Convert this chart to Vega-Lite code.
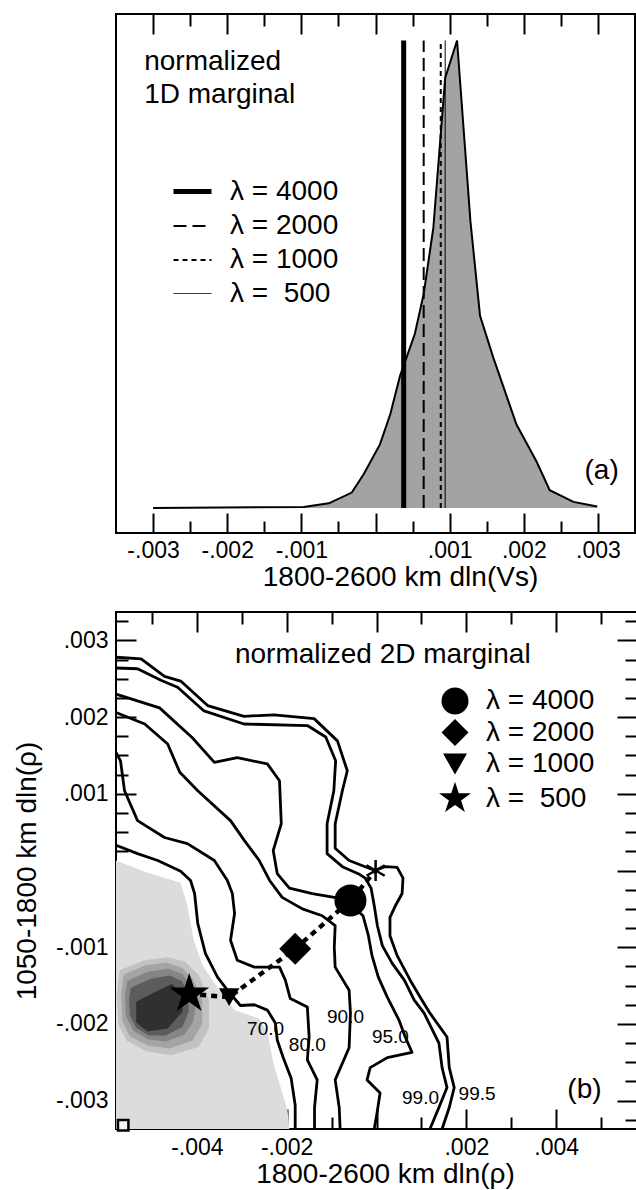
{
  "$schema": "https://vega.github.io/schema/vega-lite/v6.json",
  "padding": {"left": 12, "top": 12, "right": 0, "bottom": 0},
  "spacing": 18,
  "resolve": {
    "scale": {"shape": "independent", "size": "independent", "strokeDash": "independent", "strokeWidth": "independent"},
    "legend": {"shape": "independent", "size": "independent", "strokeDash": "independent", "strokeWidth": "independent"}
  },
  "config": {
    "font": "Liberation Sans",
    "view": {"stroke": "black", "strokeWidth": 2},
    "axis": {"grid": false, "domain": false, "tickColor": "black", "tickWidth": 2, "labelColor": "black", "labelFontSize": 23, "labelFlush": false, "titleFontSize": 28, "titleFontWeight": "normal", "titleColor": "black"},
    "legend": {"labelFontSize": 28, "labelColor": "black", "padding": 0},
    "text": {"color": "black"}
  },
  "datasets": {
    "marginal1d": [
      {"dlnVs": -0.0030, "density": 0.0},
      {"dlnVs": -0.00097, "density": 0.002},
      {"dlnVs": -0.00063, "density": 0.010},
      {"dlnVs": -0.00032, "density": 0.033},
      {"dlnVs": -0.00016, "density": 0.072},
      {"dlnVs": 0.00006, "density": 0.136},
      {"dlnVs": 0.00020, "density": 0.201},
      {"dlnVs": 0.00033, "density": 0.282},
      {"dlnVs": 0.00053, "density": 0.372},
      {"dlnVs": 0.00065, "density": 0.458},
      {"dlnVs": 0.00078, "density": 0.599},
      {"dlnVs": 0.00094, "density": 0.920},
      {"dlnVs": 0.00110, "density": 1.0},
      {"dlnVs": 0.00128, "density": 0.614},
      {"dlnVs": 0.00141, "density": 0.411},
      {"dlnVs": 0.00159, "density": 0.321},
      {"dlnVs": 0.00190, "density": 0.179},
      {"dlnVs": 0.00217, "density": 0.100},
      {"dlnVs": 0.00235, "density": 0.038},
      {"dlnVs": 0.00267, "density": 0.013},
      {"dlnVs": 0.00299, "density": 0.003}
    ],
    "lines1d": [
      {"lambda": 4000, "dlnVs": 0.00038},
      {"lambda": 2000, "dlnVs": 0.00065},
      {"lambda": 1000, "dlnVs": 0.00088},
      {"lambda": 500, "dlnVs": 0.00094}
    ],
    "contours": [
      {"level": "99.5", "i": 0, "x": -0.00580, "y": 0.00278},
      {"level": "99.5", "i": 1, "x": -0.00524, "y": 0.00276},
      {"level": "99.5", "i": 2, "x": -0.00472, "y": 0.00253},
      {"level": "99.5", "i": 3, "x": -0.00436, "y": 0.00247},
      {"level": "99.5", "i": 4, "x": -0.00376, "y": 0.00215},
      {"level": "99.5", "i": 5, "x": -0.00295, "y": 0.00201},
      {"level": "99.5", "i": 6, "x": -0.00228, "y": 0.00203},
      {"level": "99.5", "i": 7, "x": -0.00139, "y": 0.00198},
      {"level": "99.5", "i": 8, "x": -0.00087, "y": 0.00169},
      {"level": "99.5", "i": 9, "x": -0.00065, "y": 0.00130},
      {"level": "99.5", "i": 10, "x": -0.00076, "y": 0.00104},
      {"level": "99.5", "i": 11, "x": -0.00092, "y": 0.00061},
      {"level": "99.5", "i": 12, "x": -0.00092, "y": 0.00029},
      {"level": "99.5", "i": 13, "x": -0.00061, "y": 0.00013},
      {"level": "99.5", "i": 14, "x": -0.00021, "y": 0.00004},
      {"level": "99.5", "i": 15, "x": -0.00003, "y": 0.00000},
      {"level": "99.5", "i": 16, "x": 0.00019, "y": 0.00005},
      {"level": "99.5", "i": 17, "x": 0.00046, "y": 0.00004},
      {"level": "99.5", "i": 18, "x": 0.00059, "y": -0.00010},
      {"level": "99.5", "i": 19, "x": 0.00057, "y": -0.00030},
      {"level": "99.5", "i": 20, "x": 0.00042, "y": -0.00046},
      {"level": "99.5", "i": 21, "x": 0.00030, "y": -0.00061},
      {"level": "99.5", "i": 22, "x": 0.00030, "y": -0.00085},
      {"level": "99.5", "i": 23, "x": 0.00046, "y": -0.00111},
      {"level": "99.5", "i": 24, "x": 0.00075, "y": -0.00143},
      {"level": "99.5", "i": 25, "x": 0.00097, "y": -0.00165},
      {"level": "99.5", "i": 26, "x": 0.00119, "y": -0.00186},
      {"level": "99.5", "i": 27, "x": 0.00157, "y": -0.00217},
      {"level": "99.5", "i": 28, "x": 0.00162, "y": -0.00257},
      {"level": "99.5", "i": 29, "x": 0.00173, "y": -0.00283},
      {"level": "99.5", "i": 30, "x": 0.00162, "y": -0.00309},
      {"level": "99.5", "i": 31, "x": 0.00146, "y": -0.00337},
      {"level": "99.0", "i": 0, "x": -0.00580, "y": 0.00264},
      {"level": "99.0", "i": 1, "x": -0.00532, "y": 0.00263},
      {"level": "99.0", "i": 2, "x": -0.00480, "y": 0.00248},
      {"level": "99.0", "i": 3, "x": -0.00443, "y": 0.00239},
      {"level": "99.0", "i": 4, "x": -0.00384, "y": 0.00208},
      {"level": "99.0", "i": 5, "x": -0.00295, "y": 0.00191},
      {"level": "99.0", "i": 6, "x": -0.00154, "y": 0.00189},
      {"level": "99.0", "i": 7, "x": -0.00113, "y": 0.00174},
      {"level": "99.0", "i": 8, "x": -0.00091, "y": 0.00143},
      {"level": "99.0", "i": 9, "x": -0.00095, "y": 0.00104},
      {"level": "99.0", "i": 10, "x": -0.00110, "y": 0.00061},
      {"level": "99.0", "i": 11, "x": -0.00110, "y": 0.00022},
      {"level": "99.0", "i": 12, "x": -0.00076, "y": 0.00005},
      {"level": "99.0", "i": 13, "x": -0.00038, "y": -0.00005},
      {"level": "99.0", "i": 14, "x": -0.00025, "y": -0.00010},
      {"level": "99.0", "i": 15, "x": -0.00012, "y": -0.00023},
      {"level": "99.0", "i": 16, "x": -0.00005, "y": -0.00046},
      {"level": "99.0", "i": 17, "x": 0.00002, "y": -0.00072},
      {"level": "99.0", "i": 18, "x": 0.00013, "y": -0.00098},
      {"level": "99.0", "i": 19, "x": 0.00035, "y": -0.00121},
      {"level": "99.0", "i": 20, "x": 0.00062, "y": -0.00143},
      {"level": "99.0", "i": 21, "x": 0.00084, "y": -0.00169},
      {"level": "99.0", "i": 22, "x": 0.00106, "y": -0.00186},
      {"level": "99.0", "i": 23, "x": 0.00139, "y": -0.00225},
      {"level": "99.0", "i": 24, "x": 0.00146, "y": -0.00257},
      {"level": "99.0", "i": 25, "x": 0.00157, "y": -0.00283},
      {"level": "99.0", "i": 26, "x": 0.00139, "y": -0.00309},
      {"level": "99.0", "i": 27, "x": 0.00119, "y": -0.00337},
      {"level": "95.0", "i": 0, "x": -0.00580, "y": 0.00230},
      {"level": "95.0", "i": 1, "x": -0.00483, "y": 0.00212},
      {"level": "95.0", "i": 2, "x": -0.00410, "y": 0.00173},
      {"level": "95.0", "i": 3, "x": -0.00361, "y": 0.00141},
      {"level": "95.0", "i": 4, "x": -0.00310, "y": 0.00147},
      {"level": "95.0", "i": 5, "x": -0.00243, "y": 0.00139},
      {"level": "95.0", "i": 6, "x": -0.00216, "y": 0.00117},
      {"level": "95.0", "i": 7, "x": -0.00212, "y": 0.00061},
      {"level": "95.0", "i": 8, "x": -0.00230, "y": 0.00026},
      {"level": "95.0", "i": 9, "x": -0.00221, "y": -0.00004},
      {"level": "95.0", "i": 10, "x": -0.00194, "y": -0.00023},
      {"level": "95.0", "i": 11, "x": -0.00143, "y": -0.00030},
      {"level": "95.0", "i": 12, "x": -0.00094, "y": -0.00035},
      {"level": "95.0", "i": 13, "x": -0.00054, "y": -0.00046},
      {"level": "95.0", "i": 14, "x": -0.00030, "y": -0.00059},
      {"level": "95.0", "i": 15, "x": -0.00018, "y": -0.00085},
      {"level": "95.0", "i": 16, "x": -0.00010, "y": -0.00111},
      {"level": "95.0", "i": 17, "x": 0.00004, "y": -0.00139},
      {"level": "95.0", "i": 18, "x": 0.00024, "y": -0.00165},
      {"level": "95.0", "i": 19, "x": 0.00050, "y": -0.00195},
      {"level": "95.0", "i": 20, "x": 0.00064, "y": -0.00217},
      {"level": "95.0", "i": 21, "x": 0.00079, "y": -0.00237},
      {"level": "95.0", "i": 22, "x": 0.00024, "y": -0.00244},
      {"level": "95.0", "i": 23, "x": -0.00014, "y": -0.00257},
      {"level": "95.0", "i": 24, "x": -0.00021, "y": -0.00273},
      {"level": "95.0", "i": 25, "x": 0.00008, "y": -0.00290},
      {"level": "95.0", "i": 26, "x": 0.00002, "y": -0.00313},
      {"level": "95.0", "i": 27, "x": -0.00005, "y": -0.00337},
      {"level": "90.0", "i": 0, "x": -0.00580, "y": 0.00206},
      {"level": "90.0", "i": 1, "x": -0.00516, "y": 0.00191},
      {"level": "90.0", "i": 2, "x": -0.00465, "y": 0.00165},
      {"level": "90.0", "i": 3, "x": -0.00438, "y": 0.00128},
      {"level": "90.0", "i": 4, "x": -0.00398, "y": 0.00104},
      {"level": "90.0", "i": 5, "x": -0.00325, "y": 0.00065},
      {"level": "90.0", "i": 6, "x": -0.00294, "y": 0.00039},
      {"level": "90.0", "i": 7, "x": -0.00261, "y": 0.00013},
      {"level": "90.0", "i": 8, "x": -0.00238, "y": -0.00013},
      {"level": "90.0", "i": 9, "x": -0.00210, "y": -0.00035},
      {"level": "90.0", "i": 10, "x": -0.00165, "y": -0.00050},
      {"level": "90.0", "i": 11, "x": -0.00121, "y": -0.00059},
      {"level": "90.0", "i": 12, "x": -0.00092, "y": -0.00072},
      {"level": "90.0", "i": 13, "x": -0.00094, "y": -0.00100},
      {"level": "90.0", "i": 14, "x": -0.00092, "y": -0.00126},
      {"level": "90.0", "i": 15, "x": -0.00061, "y": -0.00156},
      {"level": "90.0", "i": 16, "x": -0.00058, "y": -0.00186},
      {"level": "90.0", "i": 17, "x": -0.00061, "y": -0.00231},
      {"level": "90.0", "i": 18, "x": -0.00092, "y": -0.00273},
      {"level": "90.0", "i": 19, "x": -0.00083, "y": -0.00309},
      {"level": "90.0", "i": 20, "x": -0.00081, "y": -0.00337},
      {"level": "80.0", "i": 0, "x": -0.00580, "y": 0.00154},
      {"level": "80.0", "i": 1, "x": -0.00570, "y": 0.00143},
      {"level": "80.0", "i": 2, "x": -0.00561, "y": 0.00104},
      {"level": "80.0", "i": 3, "x": -0.00532, "y": 0.00065},
      {"level": "80.0", "i": 4, "x": -0.00472, "y": 0.00043},
      {"level": "80.0", "i": 5, "x": -0.00421, "y": 0.00035},
      {"level": "80.0", "i": 6, "x": -0.00361, "y": 0.00013},
      {"level": "80.0", "i": 7, "x": -0.00332, "y": -0.00013},
      {"level": "80.0", "i": 8, "x": -0.00321, "y": -0.00030},
      {"level": "80.0", "i": 9, "x": -0.00316, "y": -0.00056},
      {"level": "80.0", "i": 10, "x": -0.00325, "y": -0.00091},
      {"level": "80.0", "i": 11, "x": -0.00310, "y": -0.00117},
      {"level": "80.0", "i": 12, "x": -0.00272, "y": -0.00126},
      {"level": "80.0", "i": 13, "x": -0.00238, "y": -0.00126},
      {"level": "80.0", "i": 14, "x": -0.00216, "y": -0.00126},
      {"level": "80.0", "i": 15, "x": -0.00203, "y": -0.00143},
      {"level": "80.0", "i": 16, "x": -0.00192, "y": -0.00167},
      {"level": "80.0", "i": 17, "x": -0.00154, "y": -0.00178},
      {"level": "80.0", "i": 18, "x": -0.00150, "y": -0.00217},
      {"level": "80.0", "i": 19, "x": -0.00154, "y": -0.00247},
      {"level": "80.0", "i": 20, "x": -0.00132, "y": -0.00273},
      {"level": "80.0", "i": 21, "x": -0.00138, "y": -0.00309},
      {"level": "80.0", "i": 22, "x": -0.00138, "y": -0.00337},
      {"level": "70.0", "i": 0, "x": -0.00580, "y": 0.00033},
      {"level": "70.0", "i": 1, "x": -0.00532, "y": 0.00022},
      {"level": "70.0", "i": 2, "x": -0.00487, "y": 0.00013},
      {"level": "70.0", "i": 3, "x": -0.00436, "y": -0.00001},
      {"level": "70.0", "i": 4, "x": -0.00414, "y": -0.00013},
      {"level": "70.0", "i": 5, "x": -0.00405, "y": -0.00030},
      {"level": "70.0", "i": 6, "x": -0.00398, "y": -0.00069},
      {"level": "70.0", "i": 7, "x": -0.00381, "y": -0.00108},
      {"level": "70.0", "i": 8, "x": -0.00354, "y": -0.00139},
      {"level": "70.0", "i": 9, "x": -0.00332, "y": -0.00156},
      {"level": "70.0", "i": 10, "x": -0.00303, "y": -0.00176},
      {"level": "70.0", "i": 11, "x": -0.00272, "y": -0.00175},
      {"level": "70.0", "i": 12, "x": -0.00243, "y": -0.00182},
      {"level": "70.0", "i": 13, "x": -0.00225, "y": -0.00199},
      {"level": "70.0", "i": 14, "x": -0.00221, "y": -0.00221},
      {"level": "70.0", "i": 15, "x": -0.00207, "y": -0.00245},
      {"level": "70.0", "i": 16, "x": -0.00190, "y": -0.00271},
      {"level": "70.0", "i": 17, "x": -0.00181, "y": -0.00306},
      {"level": "70.0", "i": 18, "x": -0.00181, "y": -0.00337}
    ],
    "shading": [
      {"region": "L0", "i": 0, "x": -0.00580, "y": 0.00013},
      {"region": "L0", "i": 1, "x": -0.00510, "y": -0.00003},
      {"region": "L0", "i": 2, "x": -0.00436, "y": -0.00016},
      {"region": "L0", "i": 3, "x": -0.00421, "y": -0.00046},
      {"region": "L0", "i": 4, "x": -0.00407, "y": -0.00091},
      {"region": "L0", "i": 5, "x": -0.00387, "y": -0.00124},
      {"region": "L0", "i": 6, "x": -0.00350, "y": -0.00156},
      {"region": "L0", "i": 7, "x": -0.00316, "y": -0.00182},
      {"region": "L0", "i": 8, "x": -0.00261, "y": -0.00193},
      {"region": "L0", "i": 9, "x": -0.00241, "y": -0.00215},
      {"region": "L0", "i": 10, "x": -0.00230, "y": -0.00250},
      {"region": "L0", "i": 11, "x": -0.00198, "y": -0.00313},
      {"region": "L0", "i": 12, "x": -0.00194, "y": -0.00337},
      {"region": "L0", "i": 13, "x": -0.00580, "y": -0.00337},
      {"region": "L1", "i": 0, "x": -0.00572, "y": -0.00130},
      {"region": "L1", "i": 1, "x": -0.00517, "y": -0.00117},
      {"region": "L1", "i": 2, "x": -0.00465, "y": -0.00113},
      {"region": "L1", "i": 3, "x": -0.00426, "y": -0.00119},
      {"region": "L1", "i": 4, "x": -0.00395, "y": -0.00137},
      {"region": "L1", "i": 5, "x": -0.00373, "y": -0.00169},
      {"region": "L1", "i": 6, "x": -0.00373, "y": -0.00206},
      {"region": "L1", "i": 7, "x": -0.00396, "y": -0.00230},
      {"region": "L1", "i": 8, "x": -0.00458, "y": -0.00241},
      {"region": "L1", "i": 9, "x": -0.00512, "y": -0.00236},
      {"region": "L1", "i": 10, "x": -0.00556, "y": -0.00222},
      {"region": "L1", "i": 11, "x": -0.00575, "y": -0.00200},
      {"region": "L1", "i": 12, "x": -0.00578, "y": -0.00161},
      {"region": "L2", "i": 0, "x": -0.00563, "y": -0.00136},
      {"region": "L2", "i": 1, "x": -0.00516, "y": -0.00124},
      {"region": "L2", "i": 2, "x": -0.00468, "y": -0.00120},
      {"region": "L2", "i": 3, "x": -0.00432, "y": -0.00127},
      {"region": "L2", "i": 4, "x": -0.00407, "y": -0.00143},
      {"region": "L2", "i": 5, "x": -0.00388, "y": -0.00169},
      {"region": "L2", "i": 6, "x": -0.00388, "y": -0.00200},
      {"region": "L2", "i": 7, "x": -0.00410, "y": -0.00222},
      {"region": "L2", "i": 8, "x": -0.00461, "y": -0.00232},
      {"region": "L2", "i": 9, "x": -0.00509, "y": -0.00228},
      {"region": "L2", "i": 10, "x": -0.00549, "y": -0.00216},
      {"region": "L2", "i": 11, "x": -0.00566, "y": -0.00196},
      {"region": "L2", "i": 12, "x": -0.00569, "y": -0.00162},
      {"region": "L3", "i": 0, "x": -0.00555, "y": -0.00144},
      {"region": "L3", "i": 1, "x": -0.00510, "y": -0.00132},
      {"region": "L3", "i": 2, "x": -0.00463, "y": -0.00128},
      {"region": "L3", "i": 3, "x": -0.00432, "y": -0.00135},
      {"region": "L3", "i": 4, "x": -0.00411, "y": -0.00152},
      {"region": "L3", "i": 5, "x": -0.00402, "y": -0.00173},
      {"region": "L3", "i": 6, "x": -0.00408, "y": -0.00197},
      {"region": "L3", "i": 7, "x": -0.00428, "y": -0.00214},
      {"region": "L3", "i": 8, "x": -0.00470, "y": -0.00223},
      {"region": "L3", "i": 9, "x": -0.00509, "y": -0.00220},
      {"region": "L3", "i": 10, "x": -0.00541, "y": -0.00209},
      {"region": "L3", "i": 11, "x": -0.00558, "y": -0.00190},
      {"region": "L3", "i": 12, "x": -0.00560, "y": -0.00163},
      {"region": "L4", "i": 0, "x": -0.00547, "y": -0.00153},
      {"region": "L4", "i": 1, "x": -0.00503, "y": -0.00141},
      {"region": "L4", "i": 2, "x": -0.00461, "y": -0.00137},
      {"region": "L4", "i": 3, "x": -0.00434, "y": -0.00144},
      {"region": "L4", "i": 4, "x": -0.00418, "y": -0.00161},
      {"region": "L4", "i": 5, "x": -0.00418, "y": -0.00184},
      {"region": "L4", "i": 6, "x": -0.00432, "y": -0.00204},
      {"region": "L4", "i": 7, "x": -0.00470, "y": -0.00215},
      {"region": "L4", "i": 8, "x": -0.00507, "y": -0.00215},
      {"region": "L4", "i": 9, "x": -0.00535, "y": -0.00205},
      {"region": "L4", "i": 10, "x": -0.00549, "y": -0.00189},
      {"region": "L4", "i": 11, "x": -0.00551, "y": -0.00168},
      {"region": "L5", "i": 0, "x": -0.00535, "y": -0.00171},
      {"region": "L5", "i": 1, "x": -0.00492, "y": -0.00158},
      {"region": "L5", "i": 2, "x": -0.00456, "y": -0.00148},
      {"region": "L5", "i": 3, "x": -0.00432, "y": -0.00160},
      {"region": "L5", "i": 4, "x": -0.00432, "y": -0.00184},
      {"region": "L5", "i": 5, "x": -0.00465, "y": -0.00206},
      {"region": "L5", "i": 6, "x": -0.00510, "y": -0.00210},
      {"region": "L5", "i": 7, "x": -0.00535, "y": -0.00198}
    ],
    "models": [
      {"kind": "inversion", "lambda": 500, "step": 1, "x": -0.00417, "y": -0.00161},
      {"kind": "inversion", "lambda": 1000, "step": 2, "x": -0.00328, "y": -0.00165},
      {"kind": "inversion", "lambda": 2000, "step": 3, "x": -0.00181, "y": -0.00102},
      {"kind": "inversion", "lambda": 4000, "step": 4, "x": -0.00058, "y": -0.00039},
      {"kind": "target", "lambda": null, "step": 5, "x": -0.00002, "y": 0.00000}
    ],
    "contourLabels": [
      {"label": "70.0", "x": -0.00247, "y": -0.00206},
      {"label": "80.0", "x": -0.00154, "y": -0.00228},
      {"label": "90.0", "x": -0.00069, "y": -0.00191},
      {"label": "95.0", "x": 0.00031, "y": -0.00217},
      {"label": "99.0", "x": 0.00098, "y": -0.00297},
      {"label": "99.5", "x": 0.00224, "y": -0.00291}
    ]
  },
  "vconcat": [
    {
      "width": 519,
      "height": 519,
      "resolve": {"axis": {"x": "independent"}},
      "layer": [
        {
          "data": {"name": "marginal1d"},
          "mark": {"type": "area", "color": "#a3a3a3", "opacity": 1},
          "encoding": {
            "x": {
              "field": "dlnVs", "type": "quantitative",
              "scale": {"domain": [-0.0035, 0.0035], "nice": false, "zero": false},
              "axis": {
                "orient": "bottom", "title": "1800-2600 km dln(Vs)", "titleX": 284, "titlePadding": 1,
                "values": [-0.003, -0.002, -0.001, 0, 0.001, 0.002, 0.003],
                "ticks": false, "labelPadding": 6, "labelDx": -8,
                "labelExpr": "abs(datum.value)<1e-9 ? '' : (datum.value<0 ? '-' : '') + substring(format(abs(datum.value), '.3f'), 1)"
              }
            },
            "y": {
              "field": "density", "type": "quantitative",
              "scale": {"domain": [-0.0535, 1.0566], "nice": false, "zero": false},
              "axis": null
            }
          }
        },
        {
          "data": {"name": "marginal1d"},
          "mark": {"type": "line", "color": "black", "strokeWidth": 2},
          "encoding": {
            "x": {
              "field": "dlnVs", "type": "quantitative",
              "axis": {"orient": "bottom", "title": null, "labels": false, "offset": -20, "tickSize": 20,
                       "values": [-0.003, -0.002, -0.001, 0, 0.001, 0.002, 0.003]}
            },
            "y": {"field": "density", "type": "quantitative", "axis": null}
          }
        },
        {
          "data": {"name": "lines1d"},
          "mark": {"type": "rule", "color": "black"},
          "encoding": {
            "x": {
              "field": "dlnVs", "type": "quantitative",
              "axis": {"orient": "top", "title": null, "labels": false, "offset": -20, "tickSize": 20,
                       "values": [-0.003, -0.002, -0.001, 0, 0.001, 0.002, 0.003]}
            },
            "y": {"datum": 0, "type": "quantitative", "axis": null},
            "y2": {"datum": 1},
            "strokeDash": {
              "field": "lambda", "type": "ordinal",
              "scale": {"domain": [4000, 2000, 1000, 500], "range": [[1, 0], [13, 6], [5, 4], [1, 0]]},
              "legend": {"title": null, "orient": "none", "legendX": 55, "legendY": 156, "symbolType": "stroke", "symbolSize": 1444, "symbolStrokeColor": "black", "labelOffset": 16, "rowPadding": -8.5, "labelExpr": "'λ = ' + (datum.value == 500 ? '\u00a0' : '') + datum.value"}
            },
            "strokeWidth": {
              "field": "lambda", "type": "ordinal",
              "scale": {"type": "ordinal", "domain": [4000, 2000, 1000, 500], "range": [5, 2, 2, 1]},
              "legend": {"title": null, "orient": "none", "legendX": 55, "legendY": 156, "symbolType": "stroke", "symbolSize": 1444, "symbolStrokeColor": "black", "labelOffset": 16, "rowPadding": -8.5, "labelExpr": "'λ = ' + (datum.value == 500 ? '\u00a0' : '') + datum.value"}
            }
          }
        },
        {
          "data": {"values": [{}]},
          "mark": {"type": "text", "align": "left", "baseline": "alphabetic", "fontSize": 28, "lineHeight": 33, "text": ["normalized", "1D marginal"]},
          "encoding": {
            "x": {"datum": -0.00312, "type": "quantitative",
                  "axis": {"orient": "bottom", "title": null, "labels": false, "offset": -12, "tickSize": 12,
                           "values": [-0.0025, -0.0015, -0.0005, 0.0005, 0.0015, 0.0025]}},
            "y": {"datum": 0.937, "type": "quantitative", "axis": null}
          }
        },
        {
          "data": {"values": [{}]},
          "mark": {"type": "text", "align": "center", "baseline": "middle", "fontSize": 28, "text": "(a)"},
          "encoding": {
            "x": {"datum": 0.00305, "type": "quantitative",
                  "axis": {"orient": "top", "title": null, "labels": false, "offset": -12, "tickSize": 12,
                           "values": [-0.0025, -0.0015, -0.0005, 0.0005, 0.0015, 0.0025]}},
            "y": {"datum": 0.079, "type": "quantitative", "axis": null}
          }
        }
      ]
    },
    {
      "width": 521,
      "height": 517,
      "resolve": {"axis": {"x": "independent", "y": "independent"}},
      "layer": [
        {
          "data": {"name": "shading"},
          "transform": [{"filter": "datum.region == 'L0'"}],
          "mark": {"type": "line", "fill": "#dcdcdc", "strokeWidth": 0, "strokeOpacity": 0},
          "encoding": {
            "x": {
              "field": "x", "type": "quantitative",
              "scale": {"domain": [-0.0058, 0.0058], "nice": false, "zero": false},
              "axis": {
                "orient": "bottom", "title": "1800-2600 km dln(ρ)", "titleX": 269, "titlePadding": 1,
                "values": [-0.004, -0.002, 0, 0.002, 0.004],
                "ticks": false, "labelPadding": 7, "labelDx": -8,
                "labelExpr": "abs(datum.value)<1e-9 ? '' : (datum.value<0 ? '-' : '') + substring(format(abs(datum.value), '.3f'), 1)"
              }
            },
            "y": {
              "field": "y", "type": "quantitative",
              "scale": {"domain": [-0.00337, 0.00337], "nice": false, "zero": false},
              "axis": {
                "orient": "left", "title": "1050-1800 km dln(ρ)", "titlePadding": 14,
                "values": [-0.003, -0.002, -0.001, 0, 0.001, 0.002, 0.003],
                "ticks": false, "labelPadding": 8,
                "labelExpr": "abs(datum.value)<1e-9 ? '' : (datum.value<0 ? '-' : '') + substring(format(abs(datum.value), '.3f'), 1)"
              }
            },
            "order": {"field": "i", "type": "quantitative"}
          }
        },
        {
          "data": {"name": "shading"},
          "transform": [{"filter": "datum.region == 'L1'"}],
          "mark": {"type": "line", "fill": "#c2c2c2", "strokeWidth": 0, "strokeOpacity": 0},
          "encoding": {
            "x": {"field": "x", "type": "quantitative",
                  "axis": {"orient": "bottom", "title": null, "labels": false, "offset": -20, "tickSize": 20,
                           "values": [-0.004, -0.002, 0, 0.002, 0.004]}},
            "y": {"field": "y", "type": "quantitative",
                  "axis": {"orient": "left", "title": null, "labels": false, "offset": -20, "tickSize": 20,
                           "values": [-0.003, -0.002, -0.001, 0, 0.001, 0.002, 0.003]}},
            "order": {"field": "i", "type": "quantitative"}
          }
        },
        {
          "data": {"name": "shading"},
          "transform": [{"filter": "datum.region == 'L2'"}],
          "mark": {"type": "line", "fill": "#a4a4a4", "strokeWidth": 0, "strokeOpacity": 0},
          "encoding": {
            "x": {"field": "x", "type": "quantitative",
                  "axis": {"orient": "bottom", "title": null, "labels": false, "offset": -12, "tickSize": 12,
                           "values": [-0.005, -0.003, -0.001, 0.001, 0.003, 0.005]}},
            "y": {"field": "y", "type": "quantitative",
                  "axis": {"orient": "left", "title": null, "labels": false, "offset": -12, "tickSize": 12,
                           "values": [-0.00325, -0.00275, -0.0025, -0.00225, -0.00175, -0.0015, -0.00125, -0.00075, -0.0005, -0.00025, 0.00025, 0.0005, 0.00075, 0.00125, 0.0015, 0.00175, 0.00225, 0.0025, 0.00275, 0.00325]}},
            "order": {"field": "i", "type": "quantitative"}
          }
        },
        {
          "data": {"name": "shading"},
          "transform": [{"filter": "datum.region == 'L3'"}],
          "mark": {"type": "line", "fill": "#858585", "strokeWidth": 0, "strokeOpacity": 0},
          "encoding": {
            "x": {"field": "x", "type": "quantitative",
                  "axis": {"orient": "top", "title": null, "labels": false, "offset": -20, "tickSize": 20,
                           "values": [-0.004, -0.002, 0, 0.002, 0.004]}},
            "y": {"field": "y", "type": "quantitative",
                  "axis": {"orient": "right", "title": null, "labels": false, "offset": -20, "tickSize": 20,
                           "values": [-0.003, -0.002, -0.001, 0, 0.001, 0.002, 0.003]}},
            "order": {"field": "i", "type": "quantitative"}
          }
        },
        {
          "data": {"name": "shading"},
          "transform": [{"filter": "datum.region == 'L4'"}],
          "mark": {"type": "line", "fill": "#5c5c5c", "strokeWidth": 0, "strokeOpacity": 0},
          "encoding": {
            "x": {"field": "x", "type": "quantitative",
                  "axis": {"orient": "top", "title": null, "labels": false, "offset": -12, "tickSize": 12,
                           "values": [-0.005, -0.003, -0.001, 0.001, 0.003, 0.005]}},
            "y": {"field": "y", "type": "quantitative",
                  "axis": {"orient": "right", "title": null, "labels": false, "offset": -12, "tickSize": 12,
                           "values": [-0.00325, -0.00275, -0.0025, -0.00225, -0.00175, -0.0015, -0.00125, -0.00075, -0.0005, -0.00025, 0.00025, 0.0005, 0.00075, 0.00125, 0.0015, 0.00175, 0.00225, 0.0025, 0.00275, 0.00325]}},
            "order": {"field": "i", "type": "quantitative"}
          }
        },
        {
          "data": {"name": "shading"},
          "transform": [{"filter": "datum.region == 'L5'"}],
          "mark": {"type": "line", "fill": "#303030", "strokeWidth": 0, "strokeOpacity": 0},
          "encoding": {
            "x": {"field": "x", "type": "quantitative", "axis": null},
            "y": {"field": "y", "type": "quantitative", "axis": null},
            "order": {"field": "i", "type": "quantitative"}
          }
        },
        {
          "data": {"name": "contours"},
          "mark": {"type": "line", "color": "black", "strokeWidth": 2.8, "strokeJoin": "round"},
          "encoding": {
            "x": {"field": "x", "type": "quantitative", "axis": null},
            "y": {"field": "y", "type": "quantitative", "axis": null},
            "detail": {"field": "level", "type": "nominal"},
            "order": {"field": "i", "type": "quantitative"}
          }
        },
        {
          "data": {"name": "models"},
          "mark": {"type": "line", "color": "black", "strokeWidth": 4.5, "strokeDash": [6, 5]},
          "encoding": {
            "x": {"field": "x", "type": "quantitative", "axis": null},
            "y": {"field": "y", "type": "quantitative", "axis": null},
            "order": {"field": "step", "type": "quantitative"}
          }
        },
        {
          "data": {"name": "models"},
          "transform": [{"filter": "datum.lambda == 4000"}],
          "mark": {"type": "point", "filled": true, "color": "black", "opacity": 1, "strokeWidth": 0, "size": 1024},
          "encoding": {
            "x": {"field": "x", "type": "quantitative", "axis": null},
            "y": {"field": "y", "type": "quantitative", "axis": null},
            "shape": {
              "field": "lambda", "type": "ordinal",
              "scale": {"domain": [4000, 2000, 1000, 500], "range": ["circle", "diamond", "triangle-down", "M0,-1L0.2245,-0.309L0.951,-0.309L0.363,0.118L0.588,0.809L0,0.382L-0.588,0.809L-0.363,0.118L-0.951,-0.309L-0.2245,-0.309Z"]},
              "legend": {
                "title": null, "orient": "none", "legendX": 325, "legendY": 75,
                "symbolSize": 760, "symbolFillColor": "black", "symbolStrokeWidth": 0, "symbolOpacity": 1,
                "labelOffset": 17, "rowPadding": 3.5,
                "labelExpr": "'λ = ' + (datum.value == 500 ? '\u00a0' : '') + datum.value",
                "encoding": {"symbols": {"size": {"value": {"expr": "datum.value == 500 ? 1130 : datum.value == 1000 ? 576 : 729"}}}}
              }
            }
          }
        },
        {
          "data": {"name": "models"},
          "transform": [{"filter": "datum.lambda == 2000"}],
          "mark": {"type": "point", "filled": true, "color": "black", "opacity": 1, "strokeWidth": 0, "size": 1024},
          "encoding": {
            "x": {"field": "x", "type": "quantitative", "axis": null},
            "y": {"field": "y", "type": "quantitative", "axis": null},
            "shape": {"field": "lambda", "type": "ordinal"}
          }
        },
        {
          "data": {"name": "models"},
          "transform": [{"filter": "datum.lambda == 1000"}],
          "mark": {"type": "point", "filled": true, "color": "black", "opacity": 1, "strokeWidth": 0, "size": 420},
          "encoding": {
            "x": {"field": "x", "type": "quantitative", "axis": null},
            "y": {"field": "y", "type": "quantitative", "axis": null},
            "shape": {"field": "lambda", "type": "ordinal"}
          }
        },
        {
          "data": {"name": "models"},
          "transform": [{"filter": "datum.lambda == 500"}],
          "mark": {"type": "point", "filled": true, "color": "black", "opacity": 1, "strokeWidth": 0, "size": 1770},
          "encoding": {
            "x": {"field": "x", "type": "quantitative", "axis": null},
            "y": {"field": "y", "type": "quantitative", "axis": null},
            "shape": {"field": "lambda", "type": "ordinal"}
          }
        },
        {
          "data": {"name": "models"},
          "transform": [{"filter": "datum.kind == 'target'"}],
          "mark": {"type": "point", "filled": false, "stroke": "black", "strokeWidth": 2.5, "opacity": 1, "size": 441, "shape": "M0,-1L0,1M-0.866,-0.5L0.866,0.5M-0.866,0.5L0.866,-0.5"},
          "encoding": {
            "x": {"field": "x", "type": "quantitative", "axis": null},
            "y": {"field": "y", "type": "quantitative", "axis": null}
          }
        },
        {
          "data": {"values": [{}]},
          "mark": {"type": "point", "shape": "square", "size": 110, "filled": false, "fill": "#f4f4f4", "stroke": "black", "strokeWidth": 2.5, "opacity": 1},
          "encoding": {
            "x": {"datum": -0.00564, "type": "quantitative", "axis": null},
            "y": {"datum": -0.00332, "type": "quantitative", "axis": null}
          }
        },
        {
          "data": {"name": "contourLabels"},
          "mark": {"type": "text", "fontSize": 19, "align": "center", "baseline": "middle"},
          "encoding": {
            "x": {"field": "x", "type": "quantitative", "axis": null},
            "y": {"field": "y", "type": "quantitative", "axis": null},
            "text": {"field": "label", "type": "nominal"}
          }
        },
        {
          "data": {"values": [{}]},
          "mark": {"type": "text", "align": "center", "baseline": "alphabetic", "fontSize": 28, "text": "normalized 2D marginal"},
          "encoding": {
            "x": {"datum": 0.00014, "type": "quantitative", "axis": null},
            "y": {"datum": 0.00270, "type": "quantitative", "axis": null}
          }
        },
        {
          "data": {"values": [{}]},
          "mark": {"type": "text", "align": "center", "baseline": "middle", "fontSize": 28, "text": "(b)"},
          "encoding": {
            "x": {"datum": 0.00463, "type": "quantitative", "axis": null},
            "y": {"datum": -0.00286, "type": "quantitative", "axis": null}
          }
        }
      ]
    }
  ]
}
